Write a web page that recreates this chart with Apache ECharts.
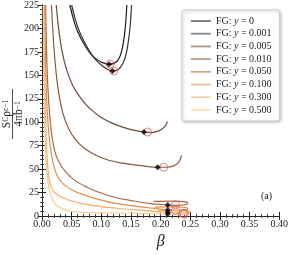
<!DOCTYPE html>
<html><head><meta charset="utf-8">
<script src="https://cdn.jsdelivr.net/npm/echarts@6/dist/echarts.min.js"></script>
<style>html,body{margin:0;padding:0;background:#fff}#c{width:291px;height:255px}</style>
</head><body><div id="c"></div>
<script>
const yLabels = ['0','0.001','0.005','0.010','0.050','0.100','0.300','0.500'];
const colors = ['#1c1c1c','#3e3330','#6e4b3b','#8c5a3f','#a66a44','#e38d4c','#f6ab66','#fccb8e'];
const xTicks = [0,0.05,0.10,0.15,0.20,0.25,0.30,0.35,0.40];
const yTicks = [0,25,50,75,100,125,150,175,200,225];

const curveY0 = [[0.047,225],[0.052,212],[0.058,200],[0.065,190],[0.073,181],[0.082,173],[0.092,167],[0.102,163.5],[0.113,161.8],[0.122,163],[0.129,167],[0.134,175],[0.138,188],[0.141,205],[0.143,225]];
const curveY001 = [[0.050,225],[0.056,210],[0.063,197],[0.071,186],[0.08,176],[0.09,167],[0.1,161],[0.11,156.5],[0.119,154.6],[0.128,156],[0.136,162],[0.142,173],[0.146,188],[0.149,205],[0.151,225]];
const curveY005 = [[0.024,225],[0.028,200],[0.034,175],[0.042,155],[0.052,139],[0.065,126],[0.08,115],[0.1,105],[0.12,98.5],[0.14,94],[0.158,91],[0.172,89.5],[0.185,89],[0.196,90.5],[0.204,93.5],[0.209,97],[0.211,101]];
const curveY010 = [[0.016,225],[0.019,190],[0.023,158],[0.028,132],[0.035,110],[0.045,93],[0.057,81],[0.072,72],[0.09,65],[0.11,60],[0.13,57],[0.15,55],[0.17,53.5],[0.195,52],[0.21,52],[0.222,53.5],[0.23,57],[0.234,62],[0.235,65]];
const curveY050 = [[0.006,225],[0.0075,180],[0.009,150],[0.011,125],[0.014,100],[0.018,80],[0.023,66],[0.03,56],[0.04,47],[0.055,38],[0.075,31],[0.097,25],[0.125,19.5],[0.155,16],[0.18,13.5],[0.2,12.3],[0.212,11.7],[0.228,11.4],[0.24,12],[0.246,13.3],[0.244,14.8],[0.232,15.6],[0.215,15.8],[0.2,15.7],[0.188,15.5]];
const curveY100 = [[0.0045,225],[0.0055,180],[0.007,140],[0.009,110],[0.012,85],[0.016,65],[0.021,51],[0.027,41],[0.036,34],[0.05,28],[0.068,23],[0.09,18.5],[0.12,14],[0.15,11],[0.18,8.8],[0.2,7.3],[0.212,6.5],[0.228,6],[0.24,6.5],[0.246,7.8],[0.243,9],[0.23,9.6],[0.21,9.7],[0.19,9.5]];
const curveY300 = [[0.0032,225],[0.004,170],[0.005,130],[0.0065,95],[0.008,70],[0.01,50],[0.013,36],[0.018,28],[0.025,23],[0.035,19.5],[0.05,16],[0.07,13],[0.1,10],[0.13,8],[0.16,6.5],[0.19,5],[0.212,4],[0.23,3.2],[0.242,3.2],[0.249,4.2],[0.246,5.5],[0.232,6],[0.21,6],[0.195,5.8]];
const curveY500 = [[0.0022,225],[0.003,160],[0.004,115],[0.0055,80],[0.007,58],[0.009,42],[0.012,29],[0.016,20],[0.022,13],[0.03,9],[0.04,6.2],[0.05,4.8],[0.07,3.8],[0.1,3.4],[0.13,3.1],[0.16,2.8],[0.19,2.4],[0.212,2],[0.23,1.6],[0.242,1.8],[0.248,2.8],[0.243,3.8],[0.228,4.2],[0.21,4.2],[0.195,4]];
const curves = [curveY0, curveY001, curveY005, curveY010, curveY050, curveY100, curveY300, curveY500];

const diamondBeta = [0.113,0.119,0.172,0.195,0.212,0.212,0.212,0.212];
const diamondVal  = [161.8,154.6,89.5,52,11.7,6.5,4,2];
const circleBeta  = [0.115,0.121,0.178,0.205,0.225,0.225,0.238,0.240];
const circleVal   = [162,154.6,89.5,52,12,6,2.8,2];

const serif = 'Liberation Serif';
const chart = echarts.init(document.getElementById('c'));

function axisCommon(showLabel){
  return {
    axisLine:{show:true,lineStyle:{color:'#222',width:1}},
    axisTick:{show:true,inside:true,length:4,lineStyle:{color:'#222'}},
    minorTick:{show:true,splitNumber:5,length:2,lineStyle:{color:'#444'}},
    splitLine:{show:false},
    axisLabel:{show:showLabel,color:'#222',fontFamily:serif,fontSize:10,margin:3}
  };
}

const series = [];
curves.forEach((c,i)=>{
  series.push({name:yLabels[i],type:'line',data:c,symbol:'none',smooth:0.3,
    lineStyle:{color:colors[i],width:1.2},itemStyle:{color:colors[i]},z:2,silent:true});
});
series.push({name:'crit',type:'scatter',data:circleBeta.map((b,i)=>[b,circleVal[i]]),
  symbol:'circle',symbolSize:8,itemStyle:{color:'rgba(0,0,0,0)',borderColor:'#dd5a5a',borderWidth:1},z:4,silent:true});
series.push({name:'min',type:'scatter',data:diamondBeta.map((b,i)=>[b,diamondVal[i]]),
  symbol:'diamond',symbolSize:6,itemStyle:{color:'#000'},z:5,silent:true});

const option = {
  animation:false,
  grid:{left:42,right:9,top:5,bottom:33},
  legend:{
    data:yLabels, orient:'vertical', left:182, top:10,
    padding:[6,8,6,8], itemGap:2.7, itemWidth:20, itemHeight:10,
    backgroundColor:'#fff', borderColor:'#cfcfcf', borderWidth:1, borderRadius:2,
    shadowColor:'rgba(0,0,0,0.25)', shadowBlur:3, shadowOffsetX:1, shadowOffsetY:1,
    lineStyle:{opacity:0.6,width:1.8},
    itemStyle:{opacity:0,borderWidth:0},
    formatter: n => 'FG: {i|y} = ' + n,
    textStyle:{fontFamily:serif,fontSize:10,color:'#222',rich:{i:{fontStyle:'italic',fontFamily:serif,fontSize:10}}}
  },
  xAxis:[
    Object.assign({type:'value',min:0,max:0.4,interval:0.05,position:'bottom',
      name:'β',nameLocation:'middle',nameGap:18,
      nameTextStyle:{fontFamily:serif,fontStyle:'italic',fontSize:16,color:'#222'}},axisCommon(true),
      {axisLabel:{show:true,color:'#222',fontFamily:serif,fontSize:10,margin:3,formatter:v=>v.toFixed(2)}}),
    Object.assign({type:'value',min:0,max:0.4,interval:0.05,position:'top'},axisCommon(false))
  ],
  yAxis:[
    Object.assign({type:'value',min:0,max:225,interval:25,position:'left'},axisCommon(true)),
    Object.assign({type:'value',min:0,max:225,interval:25,position:'right'},axisCommon(false))
  ],
  graphic:[
    {type:'group',x:12.5,y:114,rotation:Math.PI/2,children:[
      {type:'text',x:0,y:-0.5,style:{text:'{a|S}{b|C}{a|ρ}{c|c}{d|−1}',align:'center',verticalAlign:'bottom',fill:'#222',
        rich:{a:{fontFamily:serif,fontSize:11.5,height:11,verticalAlign:'middle'},b:{fontFamily:serif,fontSize:7.5,height:11,verticalAlign:'bottom'},c:{fontFamily:serif,fontSize:7.5,height:11,verticalAlign:'bottom'},d:{fontFamily:serif,fontSize:7.5,height:11,verticalAlign:'top'}}}},
      {type:'line',shape:{x1:-25,y1:0,x2:25,y2:0},style:{stroke:'#222',lineWidth:0.8}},
      {type:'text',x:0,y:0.5,style:{text:'{a|4πb}{d|−1}',align:'center',verticalAlign:'top',fill:'#222',
        rich:{a:{fontFamily:serif,fontSize:11.5,height:11,verticalAlign:'middle'},d:{fontFamily:serif,fontSize:7.5,height:11,verticalAlign:'top'}}}}
    ]},
    {type:'text',left:261,top:191,style:{text:'(a)',fontFamily:serif,fontSize:10,fill:'#222'}}
  ],
  series:series
};
chart.setOption(option);
</script></body></html>
